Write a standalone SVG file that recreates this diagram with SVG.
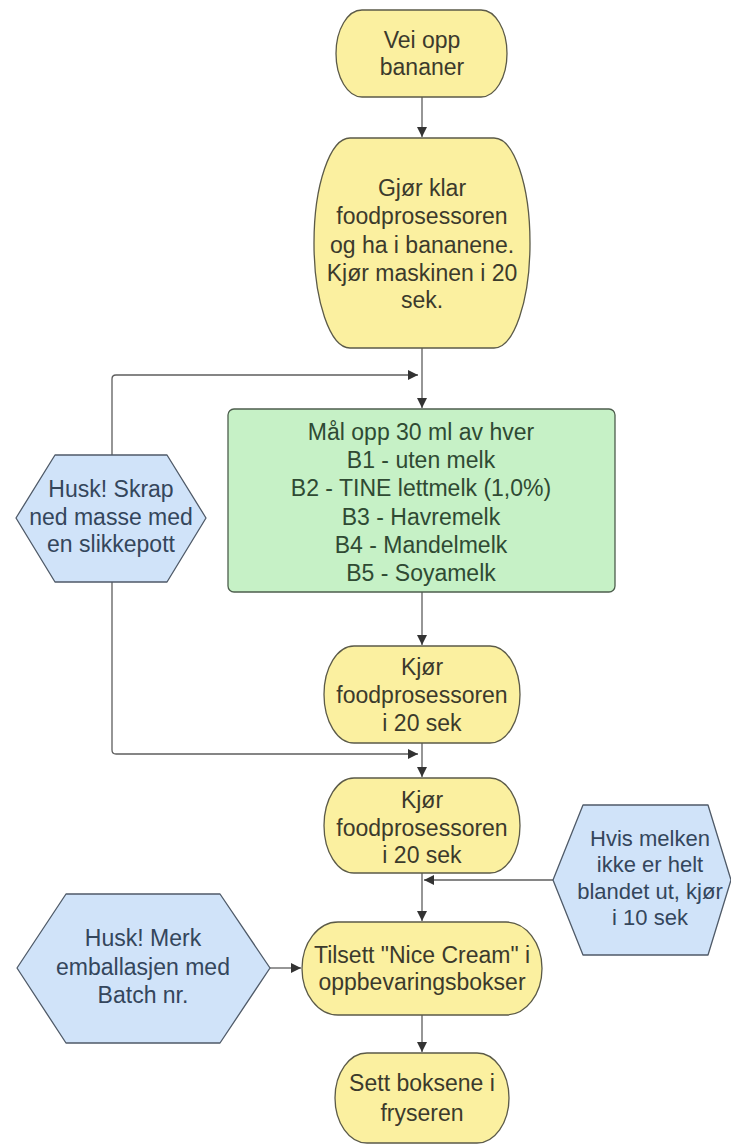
<svg xmlns="http://www.w3.org/2000/svg" width="731" height="1146" viewBox="0 0 731 1146">
<defs>
<style>
.y{fill:#fbf0a0;stroke:#5b5a48;stroke-width:1.3}
.g{fill:#c6f1c6;stroke:#4d5e4d;stroke-width:1.3}
.b{fill:#d0e3f9;stroke:#4f5a68;stroke-width:1.3;stroke-linejoin:round}
text{font-family:"Liberation Sans",Arial,sans-serif;font-size:23px;text-anchor:middle}
.ty{fill:#3b3a2c}
.tg{fill:#2f4a33}
.tb{fill:#34465c}
.c{fill:none;stroke:#5e5e5e;stroke-width:1.3}
</style>
<marker id="ah" viewBox="0 0 10 10" refX="10" refY="5" markerWidth="10" markerHeight="10" markerUnits="userSpaceOnUse" orient="auto">
<path d="M0,0 L10,5 L0,10 Z" fill="#333"/>
</marker>
</defs>
<rect width="731" height="1146" fill="#fff"/>
<g id="connectors">
<path class="c" d="M422,97 V137" marker-end="url(#ah)"/>
<path class="c" d="M422,348 V408" marker-end="url(#ah)"/>
<path class="c" d="M112,455 V379 Q112,375 116,375 H418" marker-end="url(#ah)"/>
<path class="c" d="M422,592 V645" marker-end="url(#ah)"/>
<path class="c" d="M112,582 V750 Q112,754 116,754 H418" marker-end="url(#ah)"/>
<path class="c" d="M422,743 V777" marker-end="url(#ah)"/>
<path class="c" d="M422,873 V921" marker-end="url(#ah)"/>
<path class="c" d="M553,880 H424" marker-end="url(#ah)"/>
<path class="c" d="M270,968 H301" marker-end="url(#ah)"/>
<path class="c" d="M422,1015 V1052" marker-end="url(#ah)"/>
</g>
<g id="n1">
<rect class="y" x="336" y="10" width="171" height="87" rx="26" ry="43.5"/>
<text class="ty" x="422" y="48">Vei opp</text>
<text class="ty" x="422" y="75">bananer</text>
</g>
<g id="n2">
<rect class="y" x="314" y="138" width="216" height="210" rx="36" ry="105"/>
<text class="ty" x="422" y="196">Gjør klar</text>
<text class="ty" x="422" y="224">foodprosessoren</text>
<text class="ty" x="422" y="253">og ha i bananene.</text>
<text class="ty" x="422" y="281">Kjør maskinen i 20</text>
<text class="ty" x="422" y="308">sek.</text>
</g>
<g id="n3">
<rect class="g" x="228" y="409" width="387" height="183" rx="6"/>
<text class="tg" x="421" y="440">Mål opp 30 ml av hver</text>
<text class="tg" x="421" y="468">B1 - uten melk</text>
<text class="tg" x="421" y="496">B2 - TINE lettmelk (1,0%)</text>
<text class="tg" x="421" y="525">B3 - Havremelk</text>
<text class="tg" x="421" y="553">B4 - Mandelmelk</text>
<text class="tg" x="421" y="581">B5 - Soyamelk</text>
</g>
<g id="h1">
<polygon class="b" points="55,455 167,455 206,518 167,582 55,582 16,518"/>
<text class="tb" x="111" y="497">Husk! Skrap</text>
<text class="tb" x="111" y="525">ned masse med</text>
<text class="tb" x="111" y="552">en slikkepott</text>
</g>
<g id="n4">
<rect class="y" x="324" y="646" width="196" height="97" rx="30" ry="48.5"/>
<text class="ty" x="422" y="675">Kjør</text>
<text class="ty" x="422" y="703">foodprosessoren</text>
<text class="ty" x="422" y="731">i 20 sek</text>
</g>
<g id="n5">
<rect class="y" x="324" y="778" width="196" height="95" rx="30" ry="47.5"/>
<text class="ty" x="422" y="808">Kjør</text>
<text class="ty" x="422" y="836">foodprosessoren</text>
<text class="ty" x="422" y="863">i 20 sek</text>
</g>
<g id="h2">
<polygon class="b" points="583,805 708,805 731,880 708,955 583,955 553,880"/>
<text class="tb" x="650" y="846" style="font-size:22px">Hvis melken</text>
<text class="tb" x="650" y="872" style="font-size:22px">ikke er helt</text>
<text class="tb" x="650" y="899" style="font-size:22px">blandet ut, kjør</text>
<text class="tb" x="650" y="925" style="font-size:22px">i 10 sek</text>
</g>
<g id="h3">
<polygon class="b" points="66,894 220,894 270,968 220,1043 66,1043 17,968"/>
<text class="tb" x="143" y="946">Husk! Merk</text>
<text class="tb" x="143" y="975">emballasjen med</text>
<text class="tb" x="143" y="1003">Batch nr.</text>
</g>
<g id="n6">
<rect class="y" x="302" y="922" width="240" height="93" rx="36" ry="46.5"/>
<text class="ty" x="422" y="963">Tilsett "Nice Cream" i</text>
<text class="ty" x="422" y="990">oppbevaringsbokser</text>
</g>
<g id="n7">
<rect class="y" x="335" y="1053" width="174" height="90" rx="32" ry="45"/>
<text class="ty" x="422" y="1091">Sett boksene i</text>
<text class="ty" x="422" y="1121">fryseren</text>
</g>
</svg>
